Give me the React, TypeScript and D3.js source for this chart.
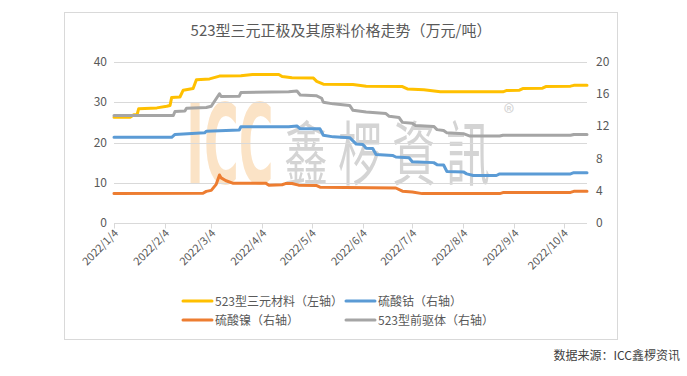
import React from "react";
import * as d3 from "d3";

const TITLE = "523型三元正极及其原料价格走势（万元/吨）";
const SOURCE = "数据来源：ICC鑫椤资讯";
const LEFT_TICKS = [0, 10, 20, 30, 40];
const RIGHT_TICKS = [0, 4, 8, 12, 16, 20];
const X_TICKS = ["2022-01-04", "2022-02-04", "2022-03-04", "2022-04-04", "2022-05-04", "2022-06-04", "2022-07-04", "2022-08-04", "2022-09-04", "2022-10-04"];
const X_LABELS = ["2022/1/4", "2022/2/4", "2022/3/4", "2022/4/4", "2022/5/4", "2022/6/4", "2022/7/4", "2022/8/4", "2022/9/4", "2022/10/4"];

// 523型三元材料（左轴）
const ternary: [string, number][] = [
  ["2022-01-04", 26.3], ["2022-01-14", 26.3], ["2022-01-16", 26.9], ["2022-01-18", 26.9], ["2022-01-19", 28.4],
  ["2022-01-30", 28.6], ["2022-02-05", 29.0], ["2022-02-07", 29.2], ["2022-02-08", 31.2], ["2022-02-13", 31.3],
  ["2022-02-15", 33.0], ["2022-02-21", 33.4], ["2022-02-23", 35.6], ["2022-03-03", 35.8], ["2022-03-09", 36.5],
  ["2022-03-22", 36.6], ["2022-03-29", 36.9], ["2022-04-14", 36.9], ["2022-04-16", 36.4], ["2022-04-22", 36.1],
  ["2022-05-05", 36.0], ["2022-05-07", 35.2], ["2022-05-11", 34.5], ["2022-05-29", 34.4], ["2022-06-06", 34.0],
  ["2022-06-28", 33.9], ["2022-07-01", 33.3], ["2022-07-11", 33.1], ["2022-07-21", 32.6], ["2022-08-28", 32.6],
  ["2022-08-30", 32.9], ["2022-09-07", 33.0], ["2022-09-09", 33.4], ["2022-09-21", 33.5], ["2022-09-23", 33.9],
  ["2022-10-08", 34.0], ["2022-10-10", 34.2], ["2022-10-18", 34.2],
];

// 硫酸钴（右轴）
const cobalt: [string, number][] = [
  ["2022-01-04", 10.65], ["2022-02-08", 10.65], ["2022-02-10", 11.0], ["2022-02-28", 11.2], ["2022-03-01", 11.4],
  ["2022-03-21", 11.55], ["2022-03-22", 11.95], ["2022-04-20", 11.95], ["2022-04-25", 12.05], ["2022-04-27", 11.7],
  ["2022-05-09", 11.7], ["2022-05-11", 10.9], ["2022-05-17", 10.7], ["2022-05-27", 10.6], ["2022-05-29", 10.2],
  ["2022-05-31", 9.8], ["2022-06-04", 9.75], ["2022-06-06", 9.3], ["2022-06-10", 9.25], ["2022-06-12", 8.5],
  ["2022-06-22", 8.4], ["2022-06-24", 8.2], ["2022-07-02", 8.1], ["2022-07-04", 7.6], ["2022-07-17", 7.5],
  ["2022-07-19", 7.25], ["2022-07-23", 7.2], ["2022-07-25", 6.4], ["2022-08-04", 6.35], ["2022-08-06", 6.1],
  ["2022-08-10", 5.9], ["2022-08-24", 5.9], ["2022-08-26", 6.1], ["2022-10-08", 6.1], ["2022-10-10", 6.25],
  ["2022-10-18", 6.25],
];

// 硫酸镍（右轴）
const nickel: [string, number][] = [
  ["2022-01-04", 3.68], ["2022-02-27", 3.7], ["2022-03-01", 3.93], ["2022-03-04", 4.05], ["2022-03-07", 4.8],
  ["2022-03-09", 5.96], ["2022-03-10", 5.6], ["2022-03-13", 5.25], ["2022-03-17", 4.95], ["2022-04-06", 4.95],
  ["2022-04-08", 4.7], ["2022-04-16", 4.75], ["2022-04-18", 4.9], ["2022-04-22", 4.9], ["2022-04-26", 4.7],
  ["2022-05-07", 4.65], ["2022-05-09", 4.45], ["2022-06-24", 4.35], ["2022-06-28", 3.95], ["2022-07-04", 3.85],
  ["2022-07-10", 3.65], ["2022-08-26", 3.65], ["2022-08-28", 3.78], ["2022-10-08", 3.8], ["2022-10-10", 3.93],
  ["2022-10-18", 3.93],
];

// 523型前驱体（右轴）
const precursor: [string, number][] = [
  ["2022-01-04", 13.35], ["2022-02-09", 13.35], ["2022-02-10", 13.85], ["2022-02-16", 13.9], ["2022-02-17", 14.25],
  ["2022-03-01", 14.35], ["2022-03-04", 14.5], ["2022-03-09", 16.05], ["2022-03-10", 15.7], ["2022-03-21", 15.75],
  ["2022-03-22", 16.2], ["2022-04-20", 16.3], ["2022-04-25", 16.4], ["2022-04-27", 15.9], ["2022-05-07", 15.8],
  ["2022-05-10", 15.5], ["2022-05-11", 15.0], ["2022-05-17", 14.8], ["2022-05-27", 14.6], ["2022-05-29", 14.0],
  ["2022-06-06", 13.8], ["2022-06-18", 13.6], ["2022-06-20", 13.25], ["2022-06-26", 13.1], ["2022-06-28", 12.5],
  ["2022-07-04", 12.4], ["2022-07-06", 12.1], ["2022-07-17", 12.0], ["2022-07-19", 11.6], ["2022-07-23", 11.5],
  ["2022-07-25", 11.2], ["2022-08-04", 11.1], ["2022-08-08", 10.8], ["2022-08-26", 10.8], ["2022-08-28", 10.9],
  ["2022-10-08", 10.9], ["2022-10-10", 11.0], ["2022-10-18", 11.0],
];

const SERIES_NAMES = ["523型三元材料（左轴）", "硫酸钴（右轴）", "硫酸镍（右轴）", "523型前驱体（右轴）"];
const COLORS = ["#FFC000", "#5B9BD5", "#ED7D31", "#A5A5A5"];
const WATERMARK_LATIN = "ICC";
const WATERMARK_CJK = "鑫椤資訊";

const FONT = "'Noto Sans CJK SC', 'Noto Sans', sans-serif";
const parse = d3.timeParse("%Y-%m-%d");

export default function App() {
  const W = 687, H = 376;
  const x = d3.scaleTime().domain([parse("2022-01-04")!, parse("2022-10-18")!]).range([114, 587]);
  const yL = d3.scaleLinear().domain([0, 40]).range([223, 62]);
  const yR = d3.scaleLinear().domain([0, 20]).range([223, 62]);

  const mk = (ys: d3.ScaleLinear<number, number>) =>
    d3.line<[string, number]>().x((d) => x(parse(d[0])!)).y((d) => ys(d[1]));

  const lines = [
    { data: ternary, y: yL, color: COLORS[0] },
    { data: precursor, y: yR, color: COLORS[3] },
    { data: cobalt, y: yR, color: COLORS[1] },
    { data: nickel, y: yR, color: COLORS[2] },
  ];

  const legend = [
    { name: SERIES_NAMES[0], color: COLORS[0], lx: 183, ly: 301 },
    { name: SERIES_NAMES[1], color: COLORS[1], lx: 346, ly: 301 },
    { name: SERIES_NAMES[2], color: COLORS[2], lx: 183, ly: 320 },
    { name: SERIES_NAMES[3], color: COLORS[3], lx: 346, ly: 320 },
  ];

  return (
    <svg width={W} height={H} style={{ position: "absolute", left: 0, top: 0, background: "#fff" }} fontFamily={FONT}>
      <rect x={0} y={0} width={W} height={H} fill="#fff" />
      <rect x={64.5} y={12.5} width={553} height={327} fill="#fff" stroke="#d9d9d9" />
      <text x={341} y={36} textAnchor="middle" fontSize={15} fill="#595959">{TITLE}</text>

      {/* watermark */}
      <g>
        <text transform="translate(230,183) scale(0.88,1.85)" textAnchor="middle" fontSize={60} fontWeight={700} fill="#FBE3C6"
          fontFamily="'DejaVu Sans Condensed', 'DejaVu Sans', sans-serif">{WATERMARK_LATIN}</text>
        <text transform="translate(284,180) scale(1,1.6)" fontSize={44} letterSpacing={10} fill="#d4d4d4">{WATERMARK_CJK}</text>
        <text x={509} y={121} textAnchor="middle" fontSize={22} fill="#d4d4d4">®</text>
      </g>

      {LEFT_TICKS.map((t) => (
        <line key={"g" + t} x1={114} x2={587} y1={Math.round(yL(t)) + 0.5} y2={Math.round(yL(t)) + 0.5} stroke="#d9d9d9" strokeWidth={1} />
      ))}
      {X_TICKS.map((t) => {
        const xx = Math.round(x(parse(t)!)) + 0.5;
        return <line key={"t" + t} x1={xx} x2={xx} y1={223.5} y2={228.5} stroke="#d9d9d9" />;
      })}

      {lines.map((l, i) => (
        <path key={i} d={mk(l.y)(l.data) || ""} fill="none" stroke={l.color} strokeWidth={3} strokeLinejoin="round" strokeLinecap="round" />
      ))}

      {LEFT_TICKS.map((t) => (
        <text key={"l" + t} x={107} y={yL(t) + 4} textAnchor="end" fontSize={12} fill="#595959">{t}</text>
      ))}
      {RIGHT_TICKS.map((t) => (
        <text key={"r" + t} x={596} y={yR(t) + 4} textAnchor="start" fontSize={12} fill="#595959">{t}</text>
      ))}
      {X_TICKS.map((t, i) => {
        const xx = x(parse(t)!);
        return (
          <text key={"x" + t} transform={`translate(${xx + 5},${234}) rotate(-45)`} textAnchor="end" fontSize={11} fill="#595959">{X_LABELS[i]}</text>
        );
      })}

      {legend.map((d) => (
        <g key={d.name}>
          <line x1={d.lx} x2={d.lx + 29} y1={d.ly} y2={d.ly} stroke={d.color} strokeWidth={3} strokeLinecap="round" />
          <text x={d.lx + 32} y={d.ly + 4.5} fontSize={12} fill="#595959">{d.name}</text>
        </g>
      ))}

      <text x={680} y={360} textAnchor="end" fontSize={12} fill="#404040">{SOURCE}</text>
    </svg>
  );
}
